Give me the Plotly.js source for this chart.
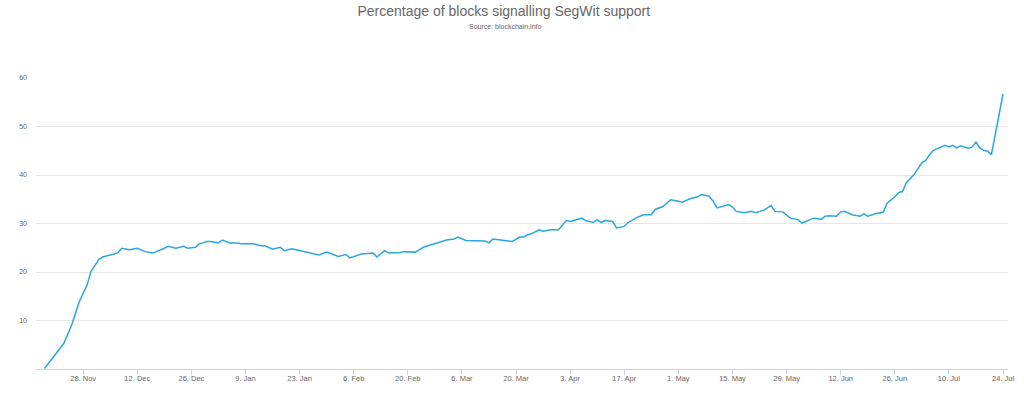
<!DOCTYPE html>
<html>
<head>
<meta charset="utf-8">
<script src="https://cdn.plot.ly/plotly-3.0.1.min.js"></script>
<style>html,body{margin:0;padding:0;background:#fff;}#chart{width:1024px;height:396px;}</style>
</head>
<body>
<div id="chart"></div>
<script>
const dates = [
'2016-11-18','2016-11-21','2016-11-23','2016-11-25','2016-11-27','2016-11-29','2016-11-30',
'2016-12-02','2016-12-03','2016-12-06','2016-12-07','2016-12-08','2016-12-10','2016-12-12',
'2016-12-14','2016-12-16','2016-12-17','2016-12-19','2016-12-20','2016-12-22','2016-12-24',
'2016-12-25','2016-12-27','2016-12-28','2016-12-29','2016-12-30','2016-12-31',
'2017-01-02','2017-01-03','2017-01-05','2017-01-07','2017-01-08','2017-01-11','2017-01-13',
'2017-01-14','2017-01-16','2017-01-18','2017-01-19','2017-01-21','2017-01-23','2017-01-25',
'2017-01-27','2017-01-28','2017-01-30',
'2017-02-01','2017-02-02','2017-02-04','2017-02-05','2017-02-08','2017-02-10','2017-02-11',
'2017-02-12','2017-02-14','2017-02-15','2017-02-18','2017-02-19','2017-02-21','2017-02-22',
'2017-02-24','2017-02-26','2017-02-28',
'2017-03-02','2017-03-04','2017-03-05','2017-03-07','2017-03-09','2017-03-10','2017-03-12',
'2017-03-13','2017-03-14','2017-03-16','2017-03-18','2017-03-19','2017-03-21','2017-03-22',
'2017-03-23','2017-03-24','2017-03-26','2017-03-27','2017-03-29','2017-03-31',
'2017-04-02','2017-04-03','2017-04-06','2017-04-07','2017-04-09','2017-04-10','2017-04-11',
'2017-04-12','2017-04-14','2017-04-15','2017-04-17','2017-04-18','2017-04-20','2017-04-22',
'2017-04-24','2017-04-25','2017-04-27','2017-04-29',
'2017-05-01','2017-05-02','2017-05-04','2017-05-05','2017-05-06','2017-05-07','2017-05-09',
'2017-05-10','2017-05-11','2017-05-14','2017-05-15','2017-05-16','2017-05-18','2017-05-20',
'2017-05-21','2017-05-23','2017-05-25','2017-05-26','2017-05-28','2017-05-30',
'2017-06-01','2017-06-02','2017-06-04','2017-06-05','2017-06-07','2017-06-08','2017-06-09',
'2017-06-11','2017-06-12','2017-06-13','2017-06-15','2017-06-17','2017-06-18','2017-06-19',
'2017-06-21','2017-06-22','2017-06-23','2017-06-24','2017-06-26','2017-06-27','2017-06-28',
'2017-06-29',
'2017-07-01','2017-07-02','2017-07-03','2017-07-04','2017-07-05','2017-07-06','2017-07-07',
'2017-07-09','2017-07-10','2017-07-11','2017-07-12','2017-07-13','2017-07-15','2017-07-16',
'2017-07-17','2017-07-18','2017-07-19','2017-07-20','2017-07-21','2017-07-24'
];
const segwitPct = [
0.1,3.2,5.3,9.0,13.9,17.3,20.1,
22.5,23.1,23.7,24.0,24.9,24.6,24.9,
24.2,23.9,24.2,24.9,25.3,24.9,25.3,
24.9,25.1,25.8,26.0,26.3,26.3,
26.0,26.6,26.0,26.0,25.8,25.8,25.4,
25.4,24.7,25.1,24.4,24.8,24.4,24.0,
23.7,23.5,24.1,
23.5,23.2,23.6,22.9,23.7,23.9,23.9,
23.1,24.4,23.9,24.0,24.2,24.2,24.1,
25.1,25.6,26.0,
26.6,26.8,27.2,26.5,26.4,26.4,26.4,
26.0,26.8,26.6,26.5,26.3,27.2,27.2,
27.7,27.9,28.7,28.4,28.7,28.7,
30.6,30.4,31.1,30.6,30.2,30.8,30.2,
30.6,30.4,29.1,29.4,30.2,31.1,31.8,
31.8,32.9,33.5,34.9,
34.6,34.4,35.1,35.3,35.5,36.0,35.6,
34.6,33.2,33.9,33.4,32.5,32.2,32.5,
32.2,32.7,33.7,32.5,32.4,31.1,
30.8,30.1,30.8,31.1,30.9,31.5,31.6,
31.5,32.4,32.5,31.8,31.5,32.0,31.5,
32.0,32.2,32.3,34.2,35.5,36.4,36.6,
38.4,
40.1,41.3,42.5,43.0,44.2,45.1,45.4,
46.1,45.8,46.1,45.6,46.0,45.5,45.8,
46.8,45.6,45.1,44.9,44.2,56.7
];
const titleText = 'Percentage of blocks signalling SegWit support';
const subtitleText = 'Source: blockchain.info';
const xTickStart = '2016-11-28';
const yTickVals = [0,10,20,30,40,50,60];
const yTickText = ['','10','20','30','40','50','60'];

const font = 'Liberation Sans, Arial, sans-serif';
const trace = {
  x: dates, y: segwitPct, type: 'scatter', mode: 'lines',
  line: {color: '#2aa7df', width: 1.5},
  hoverinfo: 'x+y'
};
const layout = {
  width: 1024, height: 396,
  margin: {l: 36, r: 16, t: 78, b: 27},
  paper_bgcolor: '#fff', plot_bgcolor: '#fff',
  showlegend: false,
  font: {family: font, color: '#666'},
  title: {
    text: titleText,
    font: {family: font, size: 14, color: '#666'},
    xref: 'container', x: 0.492, xanchor: 'center',
    yref: 'container', y: 1 - 11/396, yanchor: 'middle'
  },
  annotations: [{
    text: subtitleText, xref: 'paper', yref: 'paper',
    x: 0.4825, y: 1 + 51/291, xanchor: 'center', yanchor: 'middle',
    showarrow: false, font: {family: font, size: 7, color: '#666'}
  }],
  xaxis: {
    type: 'date',
    range: ['2016-11-15 19:00', '2017-07-25 07:00'],
    tick0: xTickStart, dtick: 14*86400000,
    tickformat: '%-d. %b',
    ticks: 'outside', ticklen: 5, tickcolor: '#ccd6eb', tickwidth: 1,
    ticklabelstandoff: -3,
    showline: true, linecolor: '#ccd6eb', linewidth: 1,
    showgrid: false, zeroline: false,
    tickfont: {family: font, size: 7.5, color: '#666'}
  },
  yaxis: {
    range: [0, 60],
    tickvals: yTickVals, ticktext: yTickText,
    ticks: '', ticklabelstandoff: 8,
    showgrid: true, gridcolor: '#e6e6e6', gridwidth: 1,
    zeroline: false, showline: false,
    tickfont: {family: font, size: 7, color: '#666'}
  }
};
Plotly.newPlot('chart', [trace], layout, {displayModeBar: false, staticPlot: true});
</script>
</body>
</html>
